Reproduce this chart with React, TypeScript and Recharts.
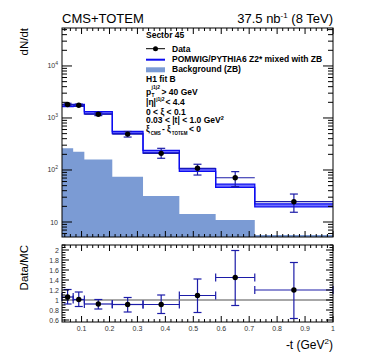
import React from 'react'
import { ComposedChart, Area, Scatter, ErrorBar, XAxis, YAxis, ReferenceLine } from 'recharts'

// -t bins (GeV^2)
const binEdges = [0.03, 0.07, 0.11, 0.21, 0.32, 0.45, 0.58, 0.72, 1.0]
const binCenters = [0.05, 0.09, 0.16, 0.265, 0.385, 0.515, 0.65, 0.86]
const binHalfWidths = [0.02, 0.02, 0.05, 0.055, 0.065, 0.065, 0.07, 0.14]

// dN/dt, data
const dataCounts = [1820, 1760, 1180, 490, 209, 108, 71, 24.6]
const dataErrDown = [90, 90, 70, 60, 41, 28, 23, 9.2]
const dataErrUp = [95, 95, 75, 60, 52, 21, 22, 9.9]

// POMWIG/PYTHIA6 band
const mcLow = [1660, 1680, 1200, 500, 212, 94, 46.5, 19.6]
const mcHigh = [1800, 1820, 1320, 550, 238, 106, 53.5, 22.4]

// background (ZB)
const bgCounts = [261, 224, 160, 74, 31.6, 14.3, 10.9, 5.6]

// Data/MC
const ratioValues = [1.06, 1.01, 0.92, 0.91, 0.91, 1.09, 1.45, 1.2]
const ratioErrDown = [0.14, 0.14, 0.1, 0.15, 0.18, 0.34, 0.56, 0.57]
const ratioErrUp = [0.15, 0.15, 0.09, 0.14, 0.19, 0.33, 0.54, 0.55]

const logMajorTicks = [10, 100, 1000, 10000]
const logTickExponents = ['', '2', '3', '4']
const xMajorTicks = [0.1, 0.2, 0.3, 0.4, 0.5, 0.6, 0.7, 0.8, 0.9, 1]
const xTickLabels = ['0.1', '0.2', '0.3', '0.4', '0.5', '0.6', '0.7', '0.8', '0.9', '1']
const ratioMajorTicks = [0.6, 0.8, 1, 1.2, 1.4, 1.6, 1.8, 2]
const ratioTickLabels = ['0.6', '0.8', '1', '1.2', '1.4', '1.6', '1.8', '2']

const LEFT = 62
const RIGHT = 333
const TOP1 = 28
const BOT1 = 237
const TOP2 = 245
const BOT2 = 322
const W = 374
const H = 359
const YW = 30 // y axis width
const XH = 20 // x axis height
const LOG_DOMAIN: [number, number] = [5.15, 53700]
const RATIO_DOMAIN: [number, number] = [0.56, 2.1]
const FONT = "'Liberation Sans', Arial, Helvetica, sans-serif"
const ERR_COLOR = '#1c1ca8'

const near = (a: number, b: number) => Math.abs(a - b) < 1e-6

const xTicksAll: number[] = []
for (let i = 2; i <= 50; i++) xTicksAll.push(Math.round(i * 2) / 100)

const logTicksAll: number[] = []
for (const dec of [1, 10, 100, 1000, 10000]) {
  for (let m = 1; m <= 9; m++) {
    const v = dec * m
    if (v >= LOG_DOMAIN[0] && v <= LOG_DOMAIN[1]) logTicksAll.push(v)
  }
}

const ratioTicksAll: number[] = []
for (let i = 12; i <= 42; i++) ratioTicksAll.push(Math.round(i * 5) / 100)

const histRows = binEdges.map((t, i) => {
  const k = Math.min(i, bgCounts.length - 1)
  return { t, bg: bgCounts[k], mc: [mcLow[k], mcHigh[k]] }
})

const dataRows = binCenters.map((t, i) => ({
  t,
  y: dataCounts[i],
  ex: binHalfWidths[i],
  ey: [dataErrDown[i], dataErrUp[i]],
}))

const ratioRows = binCenters.map((t, i) => ({
  t,
  y: ratioValues[i],
  ex: binHalfWidths[i],
  ey: [ratioErrDown[i], ratioErrUp[i]],
}))

function xTick(top: number, bottom: number, withLabels: boolean) {
  return (props: any) => {
    const { x, payload } = props
    const mi = xMajorTicks.findIndex((m) => near(m, payload.value))
    const len = mi >= 0 ? 6 : 3
    return (
      <g>
        <line x1={x} x2={x} y1={bottom} y2={bottom - len} stroke="#000" />
        <line x1={x} x2={x} y1={top} y2={top + len} stroke="#000" />
        {withLabels && mi >= 0 && (
          <text x={x} y={bottom + 9} textAnchor="middle" fontSize={7} fill="#333" fontFamily={FONT}>
            {xTickLabels[mi]}
          </text>
        )}
      </g>
    )
  }
}

const logTick = (props: any) => {
  const { y, payload } = props
  const mi = logMajorTicks.findIndex((m) => near(m, payload.value))
  const len = mi >= 0 ? 10 : 5
  return (
    <g>
      <line x1={LEFT} x2={LEFT + len} y1={y} y2={y} stroke="#000" />
      <line x1={RIGHT - len} x2={RIGHT} y1={y} y2={y} stroke="#000" />
      {mi >= 0 && (
        <text x={LEFT - 4} y={y + 2.5} textAnchor="end" fontSize={7} fill="#333" fontFamily={FONT}>
          10
          {logTickExponents[mi] && (
            <tspan dy={-3.5} fontSize={5}>
              {logTickExponents[mi]}
            </tspan>
          )}
        </text>
      )}
    </g>
  )
}

const ratioTick = (props: any) => {
  const { y, payload } = props
  const mi = ratioMajorTicks.findIndex((m) => near(m, payload.value))
  const len = mi >= 0 ? 7 : 3.5
  return (
    <g>
      <line x1={LEFT} x2={LEFT + len} y1={y} y2={y} stroke="#000" />
      <line x1={RIGHT - len} x2={RIGHT} y1={y} y2={y} stroke="#000" />
      {mi >= 0 && (
        <text x={LEFT - 3} y={y + 2.5} textAnchor="end" fontSize={7} fill="#333" fontFamily={FONT}>
          {ratioTickLabels[mi]}
        </text>
      )}
    </g>
  )
}

const dot = (r: number) => (p: any) => <circle cx={p.cx} cy={p.cy} r={r} fill="#000" />

function TopPanel() {
  return (
    <ComposedChart
      width={W}
      height={H}
      data={histRows}
      margin={{ top: TOP1, right: W - RIGHT, bottom: H - BOT1 - XH, left: LEFT - YW }}
    >
      <XAxis
        type="number"
        dataKey="t"
        domain={[0.03, 1]}
        allowDataOverflow
        ticks={xTicksAll}
        interval={0}
        height={XH}
        tickSize={0}
        tickMargin={0}
        axisLine={false}
        tickLine={false}
        tick={xTick(TOP1, BOT1, false)}
      />
      <YAxis
        type="number"
        dataKey="y"
        scale="log"
        domain={LOG_DOMAIN}
        allowDataOverflow
        ticks={logTicksAll}
        interval={0}
        width={YW}
        tickSize={0}
        tickMargin={0}
        axisLine={false}
        tickLine={false}
        tick={logTick}
      />
      <Area
        type="stepAfter"
        dataKey="bg"
        baseValue={LOG_DOMAIN[0]}
        fill="#7b9bd4"
        fillOpacity={1}
        stroke="none"
        isAnimationActive={false}
      />
      <Area
        type="stepAfter"
        dataKey="mc"
        fill="#7070ff"
        fillOpacity={1}
        stroke="#0c0cf0"
        strokeWidth={1.3}
        isAnimationActive={false}
      />
      <Scatter data={dataRows} shape={dot(2.7)} isAnimationActive={false}>
        <ErrorBar dataKey="ex" direction="x" width={0} stroke={ERR_COLOR} strokeWidth={1.2} />
        <ErrorBar dataKey="ey" direction="y" width={4} stroke={ERR_COLOR} strokeWidth={1.2} />
      </Scatter>
    </ComposedChart>
  )
}

function RatioPanel() {
  return (
    <ComposedChart
      width={W}
      height={H}
      margin={{ top: TOP2, right: W - RIGHT, bottom: H - BOT2 - XH, left: LEFT - YW }}
    >
      <XAxis
        type="number"
        dataKey="t"
        domain={[0.03, 1]}
        allowDataOverflow
        ticks={xTicksAll}
        interval={0}
        height={XH}
        tickSize={0}
        tickMargin={0}
        axisLine={false}
        tickLine={false}
        tick={xTick(TOP2, BOT2, true)}
      />
      <YAxis
        type="number"
        dataKey="y"
        domain={RATIO_DOMAIN}
        allowDataOverflow
        ticks={ratioTicksAll}
        interval={0}
        width={YW}
        tickSize={0}
        tickMargin={0}
        axisLine={false}
        tickLine={false}
        tick={ratioTick}
      />
      <ReferenceLine y={1} stroke="#8a8a8a" strokeWidth={1.5} />
      <Scatter data={ratioRows} shape={dot(2.7)} isAnimationActive={false}>
        <ErrorBar dataKey="ex" direction="x" width={4} stroke={ERR_COLOR} strokeWidth={1.2} />
        <ErrorBar dataKey="ey" direction="y" width={4} stroke={ERR_COLOR} strokeWidth={1.2} />
      </Scatter>
    </ComposedChart>
  )
}

function Overlay() {
  const lx = 146
  const tx = 172
  const b = { fontSize: 8.5, fontWeight: 700, fill: '#000', fontFamily: FONT } as const
  return (
    <svg width={W} height={H} style={{ position: 'absolute', left: 0, top: 0 }}>
      <rect x={LEFT} y={TOP1} width={RIGHT - LEFT} height={BOT1 - TOP1} fill="none" stroke="#000" />
      <rect x={LEFT} y={TOP2} width={RIGHT - LEFT} height={BOT2 - TOP2} fill="none" stroke="#000" />

      <text x={LEFT} y={23} fontSize={13} fontFamily={FONT} fill="#000">
        CMS+TOTEM
      </text>
      <text x={RIGHT} y={23} fontSize={13} fontFamily={FONT} fill="#000" textAnchor="end">
        37.5 nb
        <tspan dy={-5} fontSize={8}>
          -1
        </tspan>
        <tspan dy={5}> (8 TeV)</tspan>
      </text>
      <text transform={`translate(27.5,${TOP1}) rotate(-90)`} textAnchor="end" fontSize={11.5} fontFamily={FONT}>
        dN/dt
      </text>
      <text transform={`translate(28,${TOP2}) rotate(-90)`} textAnchor="end" fontSize={11.5} fontFamily={FONT}>
        Data/MC
      </text>
      <text x={RIGHT} y={349} textAnchor="end" fontSize={12} fontFamily={FONT}>
        -t (GeV
        <tspan dy={-5} fontSize={8}>
          2
        </tspan>
        <tspan dy={5}>)</tspan>
      </text>

      {/* legend */}
      <text x={lx} y={37.5} {...b}>
        Sector 45
      </text>
      <line x1={lx} x2={165} y1={48.7} y2={48.7} stroke="#000" strokeWidth={1} />
      <circle cx={155.5} cy={48.7} r={2.5} fill="#000" />
      <text x={tx} y={51.5} {...b}>
        Data
      </text>
      <line x1={lx} x2={165} y1={59.7} y2={59.7} stroke="#0c0cf0" strokeWidth={2} />
      <text x={tx} y={62.3} {...b}>
        POMWIG/PYTHIA6 Z2* mixed with ZB
      </text>
      <rect x={lx} y={67.3} width={19} height={5} fill="#7b9bd4" />
      <text x={tx} y={72} {...b}>
        Background (ZB)
      </text>
      <text x={lx} y={82.3} {...b}>
        H1 fit B
      </text>
      <text x={lx} y={94.5} {...b}>
        p
        <tspan x={151.6} y={96.8} fontSize={4.8}>
          T
        </tspan>
        <tspan x={151.6} y={89} fontSize={5}>
          j1j2
        </tspan>
        <tspan x={161.5} y={94.5}>
          &gt; 40 GeV
        </tspan>
      </text>
      <text x={lx} y={105} {...b}>
        |η|
        <tspan x={156.2} y={100.8} fontSize={5}>
          j1j2
        </tspan>
        <tspan x={165.5} y={105}>
          &lt; 4.4
        </tspan>
      </text>
      <text x={lx} y={114.5} {...b}>
        0 &lt; ξ &lt; 0.1
      </text>
      <text x={lx} y={123.3} {...b}>
        0.03 &lt; |t| &lt; 1.0 GeV
        <tspan dy={-3.5} fontSize={5.5}>
          2
        </tspan>
      </text>
      <text x={lx} y={132.3} {...b}>
        ξ
        <tspan x={150.8} y={134.8} fontSize={4.5}>
          CMS
        </tspan>
        <tspan x={162} y={132.3}>
          -
        </tspan>
        <tspan x={167} y={132.3}>
          ξ
        </tspan>
        <tspan x={171.8} y={134.8} fontSize={4.5}>
          TOTEM
        </tspan>
        <tspan x={189} y={132.3}>
          &lt; 0
        </tspan>
      </text>
    </svg>
  )
}

export default function App() {
  return (
    <div style={{ position: 'relative', width: W, height: H, background: '#fff' }}>
      <style>{'body{margin:0}'}</style>
      <div style={{ position: 'absolute', left: 0, top: 0 }}>
        <TopPanel />
      </div>
      <div style={{ position: 'absolute', left: 0, top: 0 }}>
        <RatioPanel />
      </div>
      <Overlay />
    </div>
  )
}
